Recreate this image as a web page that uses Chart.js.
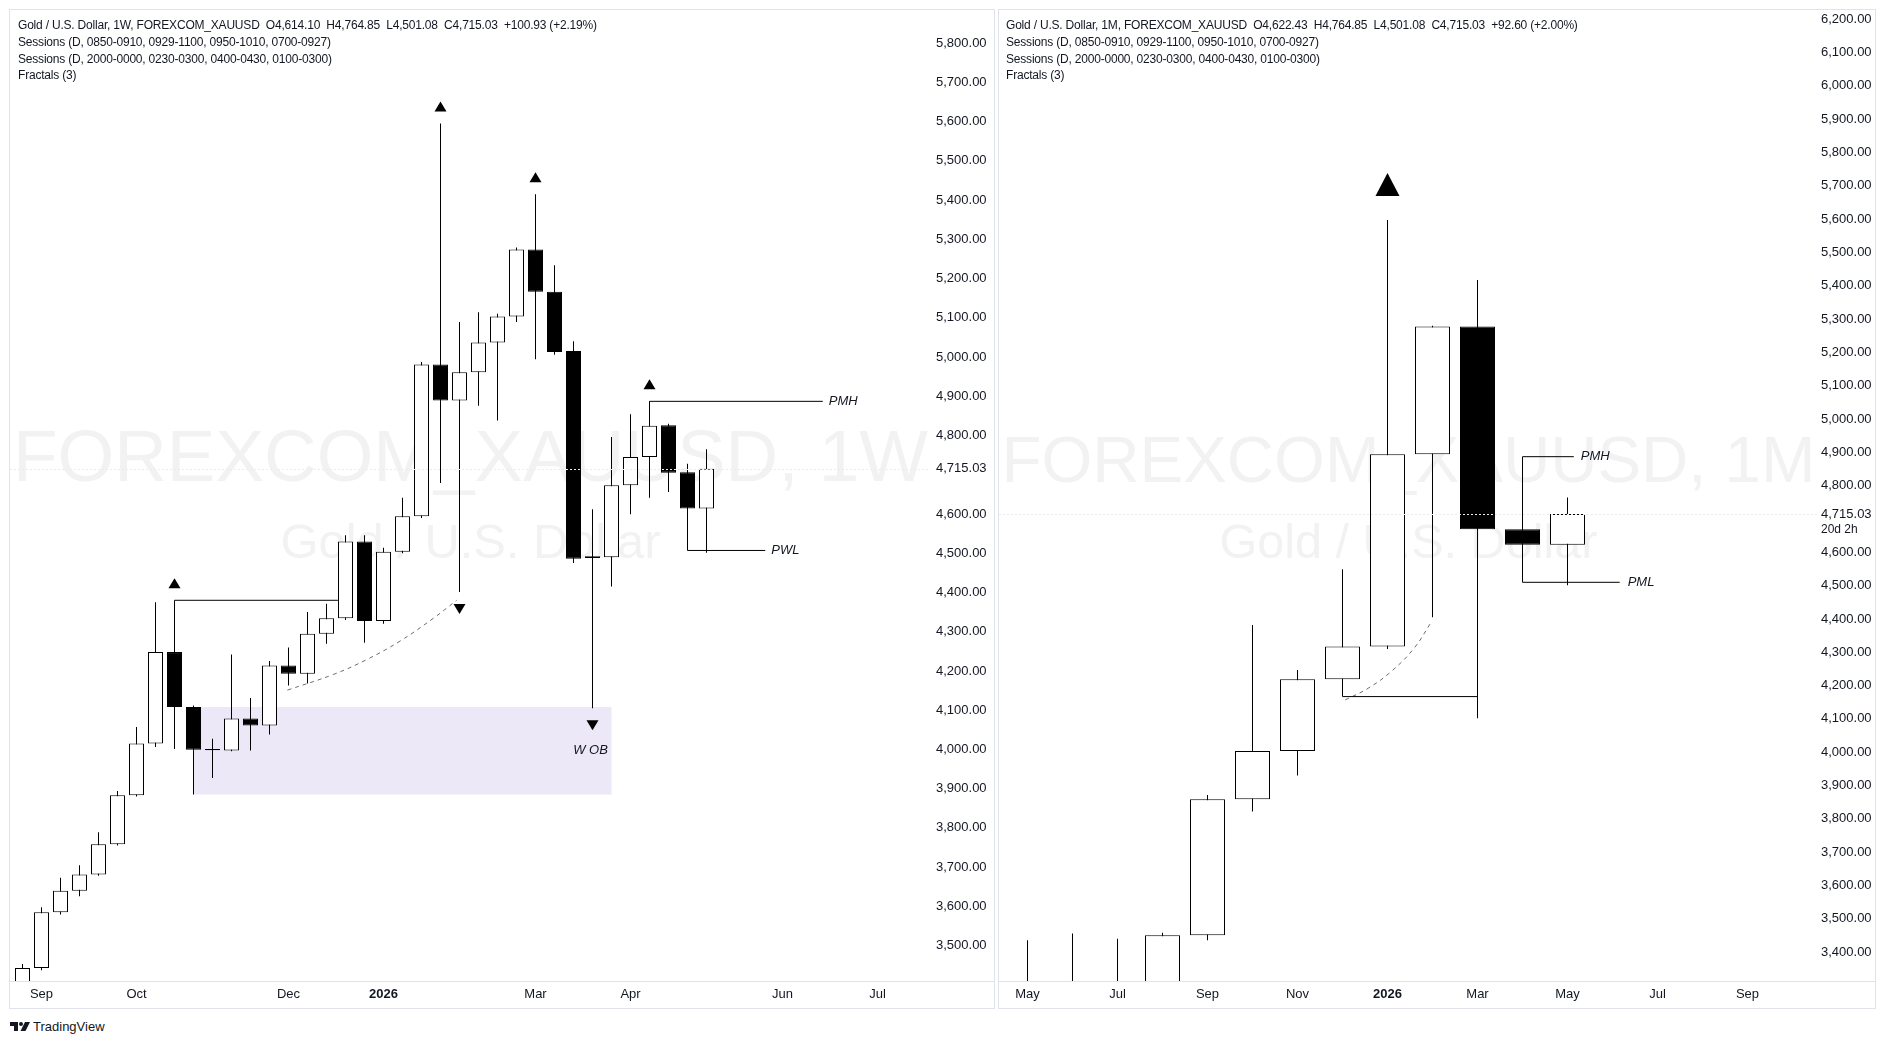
<!DOCTYPE html>
<html>
<head>
<meta charset="utf-8">
<title>XAUUSD 1W / 1M</title>
<script src="https://cdn.jsdelivr.net/npm/chart.js@4.4.1/dist/chart.umd.min.js"></script>
<style>
  html, body { margin: 0; padding: 0; background: #fff; }
  body { width: 1887px; height: 1044px; position: relative; overflow: hidden;
         font-family: 'Liberation Sans', Arial, sans-serif; color: #131722; }
  .pane { position: absolute; top: 9px; height: 1000px; border: 1px solid #e0e3eb; box-sizing: border-box; }
  #paneW { left: 9px; width: 986px; }
  #paneM { left: 998px; width: 878px; }
  .wm { position: absolute; left: 0; top: 0; height: 971px; overflow: hidden; z-index: 0; }
  .wm span { position: absolute; white-space: nowrap; color: #f2f2f3; line-height: 1; }
  canvas { position: absolute; left: 0; top: 0; z-index: 1; }
  .legend { position: absolute; top: 7px; z-index: 2; font-size: 12px; letter-spacing: -0.2px; line-height: 16.8px; white-space: pre; }
  .logo { position: absolute; left: 10px; top: 1018px; height: 16px; display: flex; align-items: center; font-size: 13px; }
  .logo svg { margin-right: 3px; }
</style>
</head>
<body>
<div class="pane" id="paneW">
  <div class="wm" id="wmW" style="width:921px"><span>FOREXCOM_XAUUSD, 1W</span><span>Gold / U.S. Dollar</span></div>
  <canvas id="weekly" width="984" height="998"></canvas>
  <div class="legend" id="legW" style="left:8px"></div>
</div>
<div class="pane" id="paneM">
  <div class="wm" id="wmM" style="width:819px"><span>FOREXCOM_XAUUSD, 1M</span><span>Gold / U.S. Dollar</span></div>
  <canvas id="monthly" width="876" height="998"></canvas>
  <div class="legend" id="legM" style="left:7px"></div>
</div>
<div class="logo">
  <svg width="20" height="9" viewBox="0 0 20 9"><path d="M0 0h8v9h-4v-5h-4z" fill="#131722"/><circle cx="11" cy="2" r="2" fill="#131722"/><path d="M15 0h5l-4.5 9h-5z" fill="#131722"/></svg>
  <span>TradingView</span>
</div>
<script>
// weekly candles, week of 25 Aug 2025 .. week of 20 Apr 2026
const weekOpen  = [3372, 3443, 3585, 3640, 3681, 3758, 3883, 4015, 4248, 4108, 3998, 3997, 4079, 4061, 4214, 4193, 4295, 4334, 4530, 4327, 4504, 4594, 4981, 4889, 4961, 5037, 5103, 5274, 5166, 5015, 4488, 4490, 4673, 4745, 4826, 4706, 4614.10];
const weekHigh  = [3453, 3598, 3673, 3705, 3789, 3894, 4057, 4375, 4380, 4112, 4027, 4242, 4131, 4225, 4260, 4350, 4371, 4546, 4546, 4514, 4641, 4987, 5595, 5089, 5114, 5110, 5279, 5415, 5234, 5040, 4612, 4796, 4854, 4887, 4830, 4728, 4764.85];
const weekLow   = [3352, 3437, 3579, 3626, 3678, 3755, 3880, 4006, 4001, 3885, 3927, 3995, 3997, 4038, 4163, 4168, 4269, 4330, 4272, 4320, 4500, 4590, 4679, 4401, 4876, 4838, 5089, 4994, 5006, 4475, 4105, 4415, 4599, 4641, 4656, 4507, 4501.08];
const weekClose = [3443, 3585, 3640, 3681, 3758, 3883, 4015, 4248, 4108, 3999, 4001, 4079, 4061, 4214, 4193, 4295, 4334, 4530, 4327, 4504, 4594, 4981, 4889, 4961, 5037, 5103, 5274, 5166, 5013, 4486, 4492, 4673, 4745, 4825, 4705, 4614.10, 4715.03];
const weekTickPos    = [1, 6, 14, 19, 27, 32, 40, 45];
const weekTickLabels = ['Sep', 'Oct', 'Dec', '2026', 'Mar', 'Apr', 'Jun', 'Jul'];
const weekFractalUp   = [8, 22, 27, 33];
const weekFractalDown = [23, 30];
const weekCurveX = [13.94, 16.36, 18.12, 19.87, 21.62, 22.85];
const weekCurveY = [4151, 4191, 4229, 4276, 4334, 4380];

// monthly candles, May 2025 .. May 2026
const monthOpen  = [3289, 3289, 3303, 3290, 3451, 3859, 4004, 4219, 4317, 4894, 5278, 4669, 4622.43];
const monthHigh  = [3436, 3456, 3440, 3458, 3872, 4382, 4247, 4549, 5597, 5280, 5417, 4887, 4764.85];
const monthLow   = [3121, 3247, 3268, 3268, 3436, 3822, 3930, 4167, 4310, 4405, 4102, 4510, 4501.08];
const monthClose = [3289, 3303, 3290, 3451, 3859, 4004, 4219, 4317, 4894, 5278, 4669, 4622.43, 4715.03];
const monthTickPos    = [0, 2, 4, 6, 8, 10, 12, 14, 16];
const monthTickLabels = ['May', 'Jul', 'Sep', 'Nov', '2026', 'Mar', 'May', 'Jul', 'Sep'];
const monthFractalUp = [8];
const monthCurveX = [7.06, 7.57, 8.08, 8.59, 8.97];
const monthCurveY = [4157, 4192, 4242, 4312, 4390];

const FONT = "'Liberation Sans', Arial, sans-serif";
const INK = '#131722';
const fmt = v => v.toLocaleString('en-US', { minimumFractionDigits: 2, maximumFractionDigits: 2 });

Chart.defaults.font.family = FONT;
Chart.defaults.font.size = 13;
Chart.defaults.color = INK;

function legendText(tf, o, h, l, c) {
  const last = c.length - 1;
  const chg = c[last] - c[last - 1];
  const pct = chg / c[last - 1] * 100;
  return 'Gold / U.S. Dollar, ' + tf + ', FOREXCOM_XAUUSD  O' + fmt(o[last]) + '  H' + fmt(h[last]) +
    '  L' + fmt(l[last]) + '  C' + fmt(c[last]) + '  +' + fmt(chg) + ' (+' + pct.toFixed(2) + '%)\n' +
    'Sessions (D, 0850-0910, 0929-1100, 0950-1010, 0700-0927)\n' +
    'Sessions (D, 2000-0000, 0230-0300, 0400-0430, 0100-0300)\n' +
    'Fractals (3)';
}
document.getElementById('legW').textContent = legendText('1W', weekOpen, weekHigh, weekLow, weekClose);
document.getElementById('legM').textContent = legendText('1M', monthOpen, monthHigh, monthLow, monthClose);

// watermark: fit the big line to the pane width
function fitWatermark(id, width1, width2) {
  const box = document.getElementById(id);
  const [a, b] = box.querySelectorAll('span');
  const boxW = box.clientWidth;
  [[a, width1, 472], [b, width2, 548]].forEach(([el, w, base]) => {
    el.style.fontSize = '100px';
    const f = 100 * w / el.getBoundingClientRect().width;
    el.style.fontSize = f + 'px';
    el.style.left = (boxW - el.getBoundingClientRect().width) / 2 + 'px';
    el.style.top = (base - 0.8465 * f) + 'px';
  });
}
fitWatermark('wmW', 915, 380);
fitWatermark('wmM', 814, 378);

function candleSets(open, high, low, close, bodyWidth) {
  return [
    {
      type: 'bar', order: 3, grouped: false, barThickness: 1, inflateAmount: 0,
      data: high.map((h, i) => ({ x: i, y: [low[i], h] })),
      backgroundColor: '#000', borderWidth: 0
    },
    {
      type: 'bar', order: 2, grouped: false, barThickness: bodyWidth, inflateAmount: 0,
      data: open.map((o, i) => ({ x: i, y: [o, close[i]] })),
      backgroundColor: open.map((o, i) => close[i] >= o ? '#ffffff' : '#000000'),
      borderColor: '#000', borderWidth: 1, borderSkipped: false
    }
  ];
}

function levelLine(x0, x1, price) {
  return { type: 'line', order: 1, data: [{ x: x0, y: price }, { x: x1, y: price }],
           borderColor: '#000', borderWidth: 1, pointRadius: 0, tension: 0 };
}

function curveLine(xs, ys) {
  return { type: 'line', order: 1, data: xs.map((x, i) => ({ x, y: ys[i] })),
           borderColor: '#6a6d78', borderWidth: 1, borderDash: [4, 4], pointRadius: 0, tension: 0.4 };
}

const decor = {
  id: 'decor',
  beforeDatasetsDraw(chart, args, o) {
    const { ctx, scales: { x, y } } = chart;
    if (!o.zone) return;
    const z = o.zone;
    const x0 = x.getPixelForValue(z.from), x1 = x.getPixelForValue(z.to);
    const y0 = y.getPixelForValue(z.top), y1 = y.getPixelForValue(z.bottom);
    ctx.save();
    ctx.fillStyle = 'rgba(149,117,205,0.17)';
    ctx.fillRect(x0, y0, x1 - x0, y1 - y0);
    ctx.restore();
  },
  afterDatasetsDraw(chart, args, o) {
    const { ctx, chartArea: a, scales: { x, y } } = chart;
    ctx.save();
    ctx.beginPath();
    ctx.rect(a.left, a.top, a.right - a.left, a.bottom - a.top);
    ctx.clip();

    // last price line
    const py = Math.round(y.getPixelForValue(o.last)) + 0.5;
    ctx.strokeStyle = '#ececef';
    ctx.lineWidth = 1;
    ctx.setLineDash([2, 2]);
    ctx.beginPath();
    ctx.moveTo(a.left, py);
    ctx.lineTo(a.right, py);
    ctx.stroke();
    ctx.setLineDash([]);

    // fractal marks
    ctx.fillStyle = '#000';
    const tri = (cx, yb, dir) => {
      ctx.beginPath();
      ctx.moveTo(cx - o.tw / 2, yb);
      ctx.lineTo(cx + o.tw / 2, yb);
      ctx.lineTo(cx, yb + dir * o.th);
      ctx.closePath();
      ctx.fill();
    };
    o.up.forEach(i => tri(x.getPixelForValue(i), y.getPixelForValue(o.high[i]) - o.gap, -1));
    o.down.forEach(i => tri(x.getPixelForValue(i), y.getPixelForValue(o.low[i]) + o.gap, 1));

    // text labels
    ctx.font = 'italic 13px ' + FONT;
    ctx.fillStyle = INK;
    ctx.textBaseline = 'middle';
    o.labels.forEach(l => {
      ctx.textAlign = l.align || 'left';
      ctx.fillText(l.text, x.getPixelForValue(l.x) + (l.dx || 0), y.getPixelForValue(l.y) + (l.dy || 0));
    });
    ctx.restore();

    // time axis separator
    ctx.save();
    ctx.strokeStyle = '#e0e3eb';
    ctx.lineWidth = 1;
    ctx.beginPath();
    ctx.moveTo(0, a.bottom + 0.5);
    ctx.lineTo(chart.width, a.bottom + 0.5);
    ctx.stroke();
    if (o.countdown) {
      ctx.font = '12px ' + FONT;
      ctx.fillStyle = INK;
      ctx.textBaseline = 'middle';
      ctx.textAlign = 'left';
      ctx.fillText(o.countdown, y.left + 3, y.getPixelForValue(o.last) + 16);
    }
    ctx.restore();
  }
};

function noPad(s) {
  s.paddingTop = 0; s.paddingBottom = 0; s.paddingLeft = 0; s.paddingRight = 0;
}

function scalesFor(xMin, xMax, tickPos, tickLabels, yMin, yMax, axisW, pad, last) {
  return {
    x: {
      type: 'linear', min: xMin, max: xMax, offset: false,
      grid: { display: false, drawTicks: false }, border: { display: false },
      afterBuildTicks: s => { s.ticks = tickPos.map(v => ({ value: v })); },
      afterFit: s => { s.height = 27; noPad(s); },
      ticks: {
        autoSkip: false, maxRotation: 0, padding: 6, color: INK,
        font: c => ({ family: FONT, size: 13, weight: c.tick && tickLabels[tickPos.indexOf(c.tick.value)] === '2026' ? 'bold' : 'normal' }),
        callback: v => tickLabels[tickPos.indexOf(v)]
      }
    },
    y: {
      position: 'right', min: yMin, max: yMax, beginAtZero: false,
      grid: { display: false, drawTicks: false }, border: { display: false },
      afterFit: s => { s.width = axisW; noPad(s); },
      afterBuildTicks: s => {
        s.ticks = s.ticks.filter(t => t.value % 100 === 0 && t.value !== 4700);
        s.ticks.push({ value: last });
      },
      ticks: { stepSize: 100, includeBounds: false, autoSkip: false, padding: pad, color: INK,
               font: { family: FONT, size: 13 }, callback: v => fmt(v) }
    }
  };
}

function baseOptions(scales, decorOpts) {
  return {
    responsive: false, animation: false, events: [], devicePixelRatio: 1,
    layout: { padding: 0, autoPadding: false },
    plugins: { legend: { display: false }, tooltip: { enabled: false }, decor: decorOpts },
    scales
  };
}

// weekly pane
new Chart(document.getElementById('weekly'), {
  type: 'bar',
  data: {
    datasets: [
      ...candleSets(weekOpen, weekHigh, weekLow, weekClose, 15),
      levelLine(8, 16.6, weekHigh[8]),
      levelLine(33, 42.12, weekHigh[33]),
      levelLine(35, 39.09, weekLow[35]),
      curveLine(weekCurveX, weekCurveY)
    ]
  },
  options: baseOptions(
    scalesFor(-0.657895, 47.815789, weekTickPos, weekTickLabels, 3409.8, 5884.3, 63, 5, weekClose[weekClose.length - 1]),
    {
      zone: { from: 9, to: 31, top: weekOpen[9], bottom: weekLow[9] },
      last: weekClose[weekClose.length - 1],
      up: weekFractalUp, down: weekFractalDown, high: weekHigh, low: weekLow,
      tw: 12, th: 10, gap: 12,
      labels: [
        { text: 'PMH', x: 42.12, y: weekHigh[33], dx: 6 },
        { text: 'PWL', x: 39.09, y: weekLow[35], dx: 6 },
        { text: 'W OB', x: 30, y: weekLow[30], dx: -2, dy: 42, align: 'center' }
      ]
    }
  ),
  plugins: [decor]
});

// monthly pane
new Chart(document.getElementById('monthly'), {
  type: 'bar',
  data: {
    datasets: [
      ...candleSets(monthOpen, monthHigh, monthLow, monthClose, 35),
      levelLine(7, 10, monthLow[7]),
      levelLine(11, 12.14, monthHigh[11]),
      levelLine(11, 13.16, monthLow[11]),
      curveLine(monthCurveX, monthCurveY)
    ]
  },
  options: baseOptions(
    scalesFor(-0.633333, 17.566667, monthTickPos, monthTickLabels, 3313.4, 6227.6, 57, 3, monthClose[monthClose.length - 1]),
    {
      last: monthClose[monthClose.length - 1],
      up: monthFractalUp, down: [], high: monthHigh, low: monthLow,
      tw: 24, th: 23, gap: 24,
      countdown: '20d 2h',
      labels: [
        { text: 'PMH', x: 12.14, y: monthHigh[11], dx: 7 },
        { text: 'PML', x: 13.16, y: monthLow[11], dx: 8 }
      ]
    }
  ),
  plugins: [decor]
});
</script>
</body>
</html>
